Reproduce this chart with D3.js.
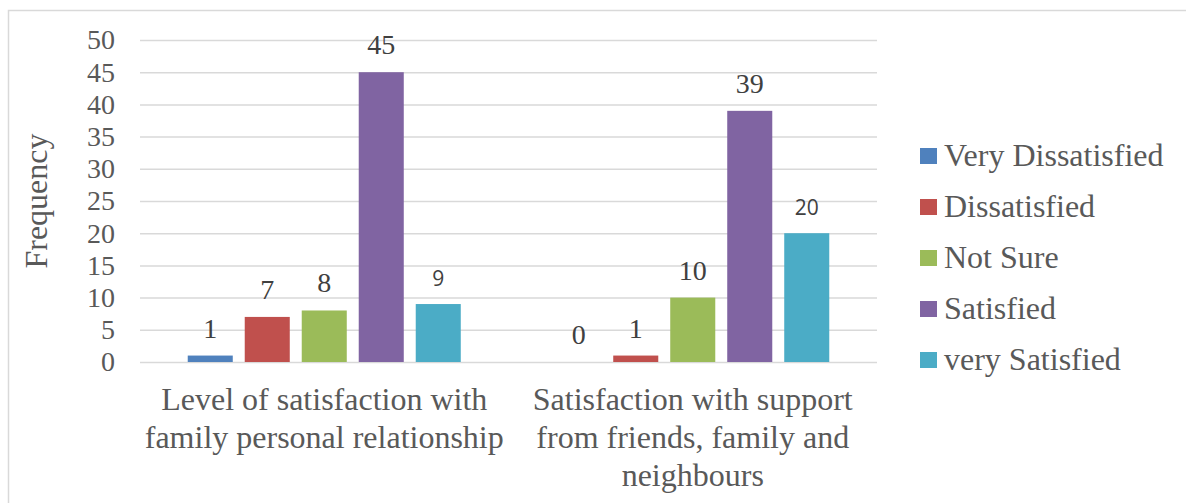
<!DOCTYPE html>
<html>
<head>
<meta charset="utf-8">
<script src="https://cdn.jsdelivr.net/npm/d3@7"></script>
<style>
  html, body { margin: 0; padding: 0; background: #fff; }
  svg { display: block; }
  .serif { font-family: "Liberation Serif", "Times New Roman", Tinos, "DejaVu Serif", serif; }
  .sans { font-family: "Open Sans", "Liberation Sans", Arial, sans-serif; }
</style>
</head>
<body>
<svg id="chart" width="1186" height="503"></svg>
<script>
// Survey responses: frequency of each satisfaction level for two questions
const categories = [
  ["Level of satisfaction with", "family personal relationship"],
  ["Satisfaction with support", "from friends, family and", "neighbours"]
];
const seriesNames = ["Very Dissatisfied", "Dissatisfied", "Not Sure", "Satisfied", "very Satisfied"];
const veryDissatisfied = [1, 0];
const dissatisfied = [7, 1];
const notSure = [8, 10];
const satisfied = [45, 39];
const verySatisfied = [9, 20];
const yTicks = [0, 5, 10, 15, 20, 25, 30, 35, 40, 45, 50];

const seriesValues = [veryDissatisfied, dissatisfied, notSure, satisfied, verySatisfied];
const colors = ["#4f81bd", "#c0504d", "#9bbb59", "#8064a2", "#4bacc6"];
// value labels of the last series are set in a sans face
const labelClass = ["serif", "serif", "serif", "serif", "sans"];
const labelSize = [28, 28, 28, 28, 21];

const svg = d3.select("#chart");

// outer frame
svg.append("rect")
  .attr("x", 8.5).attr("y", 10.5)
  .attr("width", 1200).attr("height", 520)
  .attr("fill", "none").attr("stroke", "#d9d9d9").attr("stroke-width", 1.5);

const plot = { left: 140, right: 877, top: 40, bottom: 362 };

const y = d3.scaleLinear().domain([0, 50]).range([plot.bottom, plot.top]);
const x0 = d3.scaleBand().domain(d3.range(categories.length))
  .range([plot.left, plot.right]).paddingInner(0).paddingOuter(0);
const x1 = d3.scaleBand().domain(d3.range(seriesNames.length))
  .range([0, x0.bandwidth()]).paddingInner(0.21).paddingOuter(0.8375);

// gridlines and y tick labels
const yAxis = d3.axisLeft(y).tickValues(yTicks).tickSize(-(plot.right - plot.left)).tickPadding(25);
const gy = svg.append("g").attr("transform", `translate(${plot.left},0)`).call(yAxis);
gy.attr("font-family", null).attr("font-size", null);
gy.select(".domain").remove();
gy.selectAll(".tick line").attr("stroke", "#d9d9d9").attr("stroke-width", 1.5);
gy.selectAll(".tick text")
  .attr("class", "serif")
  .attr("fill", "#595959")
  .style("font-size", "28px");

// bars
const groups = svg.append("g").selectAll("g")
  .data(categories)
  .join("g")
  .attr("transform", (d, i) => `translate(${x0(i)},0)`);

groups.selectAll("rect")
  .data((d, i) => seriesValues.map((vals, s) => ({ s, v: vals[i] })))
  .join("rect")
  .attr("x", d => x1(d.s))
  .attr("width", x1.bandwidth())
  .attr("y", d => y(d.v))
  .attr("height", d => y(0) - y(d.v))
  .attr("fill", d => colors[d.s]);

// value labels
groups.selectAll("text.val")
  .data((d, i) => seriesValues.map((vals, s) => ({ s, v: vals[i] })))
  .join("text")
  .attr("class", d => "val " + labelClass[d.s])
  .attr("x", d => x1(d.s) + x1.bandwidth() / 2)
  .attr("y", d => y(d.v) - 18)
  .attr("text-anchor", "middle")
  .attr("fill", "#404040")
  .style("font-size", d => labelSize[d.s] + "px")
  .text(d => d.v);

// category labels
const catLabels = svg.append("g").selectAll("text")
  .data(categories)
  .join("text")
  .attr("class", "serif")
  .attr("x", (d, i) => x0(i) + x0.bandwidth() / 2)
  .attr("y", 410)
  .attr("text-anchor", "middle")
  .attr("fill", "#595959")
  .style("font-size", "32px");
catLabels.selectAll("tspan")
  .data(d => d)
  .join("tspan")
  .attr("x", function () { return d3.select(this.parentNode).attr("x"); })
  .attr("dy", (d, i) => i === 0 ? 0 : 38)
  .text(d => d);

// axis title
svg.append("text")
  .attr("class", "serif")
  .attr("transform", "translate(47,201) rotate(-90)")
  .attr("text-anchor", "middle")
  .attr("fill", "#595959")
  .style("font-size", "32px")
  .text("Frequency");

// legend
const legend = svg.append("g").selectAll("g")
  .data(seriesNames)
  .join("g")
  .attr("transform", (d, i) => `translate(920,${166 + i * 51})`);
legend.append("rect")
  .attr("x", 0).attr("y", -18)
  .attr("width", 17).attr("height", 16)
  .attr("fill", (d, i) => colors[i]);
legend.append("text")
  .attr("class", "serif")
  .attr("x", 24).attr("y", 0)
  .attr("fill", "#595959")
  .style("font-size", "32px")
  .text(d => d);
</script>
</body>
</html>
